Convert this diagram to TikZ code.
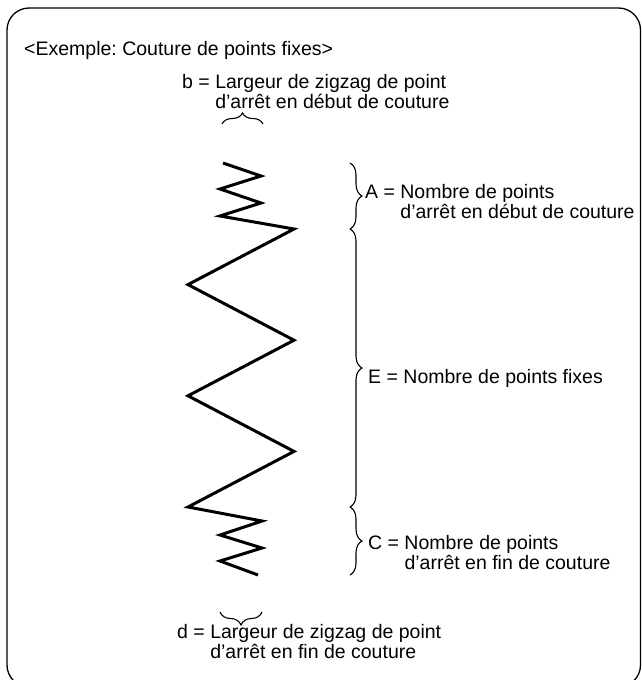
\documentclass[tikz,border=0pt]{standalone}
\usepackage{fontspec}
\setmainfont{Liberation Sans}
\frenchspacing
\usetikzlibrary{decorations.pathreplacing,positioning}

\begin{document}
\begin{tikzpicture}[x=1pt,y=-1pt,
  lbl/.style={anchor=base west,inner sep=0pt,align=left,font=\fontsize{19.5}{20}\selectfont},
  brc/.style={decorate,decoration={brace,amplitude=#1},line width=1.1pt},
  brc/.default=12]
  \useasboundingbox (0,0) rectangle (641,680);
  % frame
  \draw[line width=1.3pt,rounded corners=22] (7,8) rectangle (640.5,687);
  % stitch
  \draw[line width=3pt,line join=miter]
    (223,163) -- (261,176) -- (220,189) -- (261,203) -- (220,216) --
    (294,229) -- (188,284.6) -- (294,340.2) -- (188,395.8) -- (294,451.4) --
    (188,507) -- (262,521) -- (220,535) -- (262,548) -- (220,561) -- (258,575);
  % brace ends
  \coordinate (aTop) at (350,163);
  \coordinate (aBot) at (350,229);
  \coordinate (cTop) at (350,507);
  \coordinate (cBot) at (350,575);
  \coordinate (bL) at (222,124);
  \coordinate (bR) at (263,124);
  \coordinate (dL) at (220,612);
  \coordinate (dR) at (262,612);
  \draw[brc] (aTop) -- (aBot);
  \draw[brc] (aBot) -- (cTop);
  \draw[brc] (cTop) -- (cBot);
  \draw[brc=11] (bL) -- (bR);
  \draw[brc=13] (dR) -- (dL);
  % labels (base = last line)
  \node[lbl] (title) at (24,55) {<Exemple: Couture de points fixes>};
  \node[lbl] (bTxt) at (182,108) {b = Largeur de zigzag de point\\\hphantom{b = }d’arrêt en début de couture};
  \node[lbl] (aTxt) at (365,218) {A = Nombre de points\\\hphantom{A = }d’arrêt en début de couture};
  \node[lbl] (eTxt) at (368,383) {E = Nombre de points fixes};
  \node[lbl] (cTxt) at (368,569) {C = Nombre de points\\\hphantom{C = }d’arrêt en fin de couture};
  \node[lbl] (dTxt) at (177,658) {d = Largeur de zigzag de point\\\hphantom{d = }d’arrêt en fin de couture};
\end{tikzpicture}
\end{document}
